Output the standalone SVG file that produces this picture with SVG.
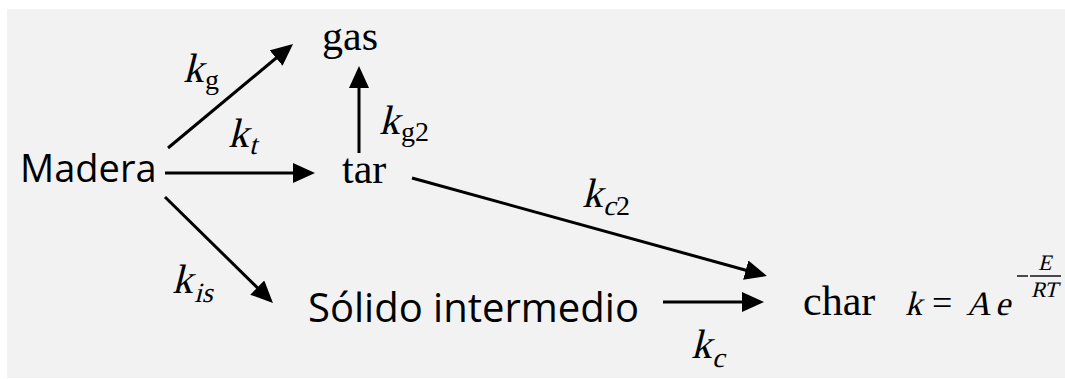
<svg xmlns="http://www.w3.org/2000/svg" width="1065" height="379" viewBox="0 0 1065 379">
<defs>
<style>
.sans{font-family:"Open Sans","Noto Sans","DejaVu Sans",sans-serif;fill:#000}
.serif{font-family:"Liberation Serif","Times New Roman",serif;fill:#000}
.k{font-family:"Liberation Serif","Times New Roman",serif;font-size:41px;fill:#000}
.sub{font-family:"Liberation Serif","Times New Roman",serif;font-size:28px;fill:#000}
.conn line{stroke:#000;stroke-width:3;fill:none;marker-end:url(#ah)}
</style>
<marker id="ah" markerUnits="userSpaceOnUse" markerWidth="24" markerHeight="22" refX="4" refY="10" orient="auto" viewBox="0 0 24 22">
<path d="M0,0 L22,10 L0,20 z" fill="#000"/>
</marker>
</defs>
<rect x="0" y="0" width="1065" height="379" fill="#ffffff"/>
<rect x="7" y="9" width="1058" height="369" fill="#f2f2f2"/>
<g id="connectors" class="conn">
<line x1="168" y1="148" x2="279.2" y2="55.5"/>
<line x1="165" y1="173" x2="297" y2="173"/>
<line x1="359" y1="153" x2="359" y2="84"/>
<line x1="165" y1="197" x2="260.1" y2="290.4"/>
<line x1="412" y1="178" x2="749.6" y2="271.2"/>
<line x1="663" y1="302" x2="746" y2="302"/>
</g>
<g id="labels">
<text class="k" transform="translate(183,82) skewX(-14)">k</text><text class="sub" x="205" y="89">g</text>
<text class="k" transform="translate(228,147) skewX(-14)">k</text><text class="sub" transform="translate(249,154) skewX(-14)">t</text>
<text class="k" transform="translate(379,134) skewX(-14)">k</text><text class="sub" x="401" y="141">g2</text>
<text class="k" transform="translate(582,207) skewX(-14)">k</text><text class="sub" transform="translate(603,215) skewX(-14)">c</text><text class="sub" x="616" y="215">2</text>
<text class="k" transform="translate(172,293) skewX(-14)">k</text><text class="sub" transform="translate(194,302) skewX(-14)">is</text>
<text class="k" transform="translate(691,358) skewX(-14)">k</text><text class="sub" transform="translate(712,367) skewX(-14)">c</text>
</g>
<g id="madera"><text class="sans" x="20" y="182" font-size="38">Madera</text></g>
<g id="gas"><text class="serif" x="322" y="50" font-size="42">gas</text></g>
<g id="tar"><text class="serif" x="342" y="183" font-size="42">tar</text></g>
<g id="solido"><text class="sans" x="308" y="322" font-size="40">Sólido intermedio</text></g>
<g id="char"><text class="serif" x="803" y="315" font-size="42">char</text></g>
<g id="formula">
<text class="serif" font-size="34" transform="translate(905,315) skewX(-14)">k</text>
<text class="serif" x="932" y="315" font-size="36">=</text>
<text class="serif" font-size="34" transform="translate(966,315) skewX(-14)">A</text>
<text class="serif" font-size="34" transform="translate(995,315) skewX(-14)">e</text>
<line x1="1017" y1="276" x2="1028" y2="276" stroke="#000" stroke-width="1.4"/>
<line x1="1030" y1="276" x2="1061" y2="276" stroke="#000" stroke-width="1.4"/>
<text class="serif" font-size="22" transform="translate(1038,270) skewX(-14)">E</text>
<text class="serif" font-size="22" transform="translate(1031,297) skewX(-14)">RT</text>
</g>
</svg>
